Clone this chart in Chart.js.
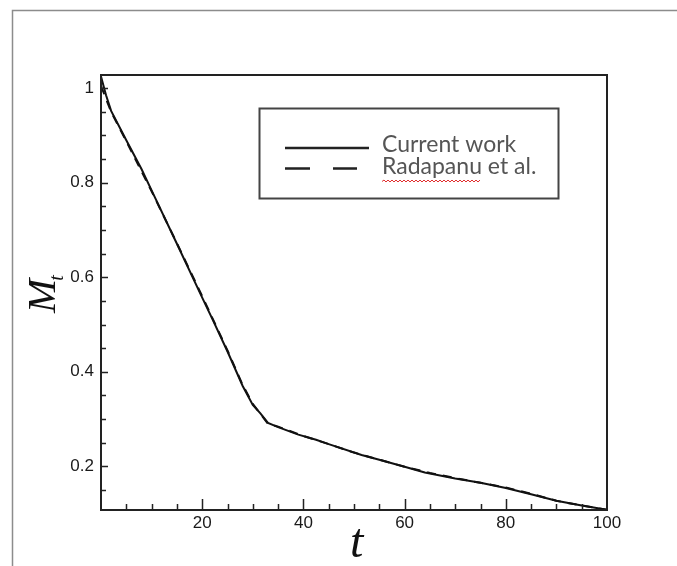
<!DOCTYPE html>
<html><head><meta charset="utf-8">
<script src="https://cdn.jsdelivr.net/npm/chart.js@4"></script>
<style>html,body{margin:0;padding:0;background:#fff}canvas{display:block}</style>
</head><body>
<canvas id="c" width="677" height="566"></canvas>
<script>
// ---- data ----
const currentT = [0, 1, 2, 5, 8, 10, 15, 20, 22, 25, 28, 30, 31.5, 33, 35, 39, 42.5, 45, 51.5, 55, 60, 64, 70, 75, 80, 85, 90, 95, 100];
const currentM = [1.025, 0.985, 0.952, 0.89, 0.829, 0.784, 0.671, 0.557, 0.512, 0.443, 0.37, 0.33, 0.312, 0.292, 0.283, 0.267, 0.256, 0.247, 0.224, 0.214, 0.199, 0.187, 0.174, 0.165, 0.154, 0.141, 0.127, 0.117, 0.108];
const radT = [0, 2, 5, 10, 15, 20, 25, 28, 30, 33, 35, 40, 45, 50, 55, 60, 65, 70, 75, 80, 85, 90, 95, 100];
const radM = [1.005, 0.95, 0.888, 0.782, 0.672, 0.56, 0.445, 0.372, 0.332, 0.29, 0.284, 0.264, 0.247, 0.229, 0.214, 0.199, 0.186, 0.175, 0.165, 0.155, 0.142, 0.127, 0.117, 0.108];
const xTickValues = [20, 40, 60, 80, 100];
const yTickValues = [0.2, 0.4, 0.6, 0.8, 1];
const seriesLabels = ['Current work', 'Radapanu et al.'];
const xTitle = 't';
const yTitleMain = 'M';
const yTitleSub = 't';

const deco = {
  id: 'deco',
  beforeDraw(chart) {
    const ctx = chart.ctx;
    ctx.save();
    ctx.fillStyle = '#fff';
    ctx.fillRect(0, 0, chart.width, chart.height);
    ctx.restore();
  },
  afterDraw(chart) {
    const { ctx, chartArea: a, scales: { x, y } } = chart;
    ctx.save();
    // outer page frame
    ctx.strokeStyle = '#8c8c8c';
    ctx.lineWidth = 1.5;
    ctx.beginPath();
    ctx.moveTo(12.5, chart.height);
    ctx.lineTo(12.5, 10.5);
    ctx.lineTo(chart.width, 10.5);
    ctx.stroke();

    // plot box
    ctx.strokeStyle = '#222';
    ctx.lineWidth = 2;
    ctx.strokeRect(a.left, a.top, a.right - a.left, a.bottom - a.top);

    // inward ticks
    ctx.lineWidth = 1.5;
    ctx.beginPath();
    for (let i = 1; i < 20; i++) {
      const v = i * 5;
      const len = (v % 20 === 0) ? 11 : 6;
      const px = Math.round(x.getPixelForValue(v)) + 0.5;
      ctx.moveTo(px, a.bottom);
      ctx.lineTo(px, a.bottom - len);
    }
    for (let i = 3; i <= 20; i++) {
      const v = i * 0.05;
      const len = (i % 4 === 0) ? 7 : 5;
      const py = Math.round(y.getPixelForValue(v)) + 0.5;
      ctx.moveTo(a.left, py);
      ctx.lineTo(a.left + len, py);
    }
    ctx.stroke();

    // legend box
    ctx.strokeStyle = '#444';
    ctx.lineWidth = 2;
    ctx.strokeRect(259.5, 108.5, 299, 90);
    const ds = chart.data.datasets;
    ctx.strokeStyle = '#222';
    ctx.lineWidth = 2.6;
    ctx.beginPath();
    ctx.setLineDash(ds[0].borderDash || []);
    ctx.moveTo(285, 148); ctx.lineTo(369, 148);
    ctx.stroke();
    ctx.beginPath();
    ctx.setLineDash([25, 23]);
    ctx.moveTo(285, 168.5); ctx.lineTo(357, 168.5);
    ctx.stroke();
    ctx.setLineDash([]);
    ctx.fillStyle = '#555';
    ctx.font = '23px Lato';
    ctx.textAlign = 'left';
    ctx.textBaseline = 'alphabetic';
    ctx.fillText(ds[0].label, 382, 152);
    ctx.fillText(ds[1].label, 382, 174);
    // spell-check wavy underline under the name
    const wEnd = 382 + ctx.measureText('Radapanu').width;
    ctx.strokeStyle = '#e03030';
    ctx.lineWidth = 1;
    ctx.beginPath();
    let up = true;
    ctx.moveTo(382, 181.5);
    for (let xx = 384; xx <= wEnd; xx += 2) {
      ctx.lineTo(xx, up ? 180 : 182);
      up = !up;
    }
    ctx.stroke();

    // x title
    ctx.fillStyle = '#111';
    ctx.font = 'italic 48px "Liberation Serif"';
    ctx.textAlign = 'left';
    ctx.fillText(xTitle, 350, 557);

    // y title M_t (rotated)
    ctx.save();
    ctx.translate(55, 313);
    ctx.rotate(-Math.PI / 2);
    ctx.font = 'italic 41px "Liberation Serif"';
    ctx.fillText(yTitleMain, 0, 0);
    const mw = ctx.measureText(yTitleMain).width;
    ctx.font = 'italic 20px "Liberation Serif"';
    ctx.fillText(yTitleSub, mw - 2, 8);
    ctx.restore();

    ctx.restore();
  }
};

new Chart(document.getElementById('c'), {
  type: 'line',
  data: {
    datasets: [
      {
        label: seriesLabels[0],
        data: currentT.map((t, i) => ({ x: t, y: currentM[i] })),
        borderColor: '#111', borderWidth: 2, pointRadius: 0, tension: 0, fill: false
      },
      {
        label: seriesLabels[1],
        data: radT.map((t, i) => ({ x: t, y: radM[i] })),
        borderColor: '#111', borderWidth: 2, borderDash: [9, 7], pointRadius: 0, tension: 0, fill: false
      }
    ]
  },
  options: {
    responsive: false,
    animation: false,
    devicePixelRatio: 1,
    layout: { padding: { left: 0, right: 70, top: 75, bottom: 0 } },
    plugins: { legend: { display: false }, tooltip: { enabled: false } },
    scales: {
      x: {
        type: 'linear', min: 0, max: 100,
        afterBuildTicks: s => { s.ticks = xTickValues.map(v => ({ value: v })); },
        afterFit: s => { s.height = 56; },
        grid: { display: false, drawTicks: false, tickLength: 0 },
        border: { display: false },
        ticks: { padding: 3, autoSkip: false, maxRotation: 0, color: '#1a1a1a',
                 font: { family: 'Liberation Sans', size: 17 } }
      },
      y: {
        type: 'linear', min: 0.1075, max: 1.028,
        afterBuildTicks: s => { s.ticks = yTickValues.map(v => ({ value: v })); },
        afterFit: s => { s.width = 101; },
        grid: { display: false, drawTicks: false, tickLength: 0 },
        border: { display: false },
        ticks: { padding: 7, autoSkip: false, color: '#1a1a1a',
                 font: { family: 'Liberation Sans', size: 17 },
                 callback: v => String(v) }
      }
    }
  },
  plugins: [deco]
});
</script>
</body></html>
